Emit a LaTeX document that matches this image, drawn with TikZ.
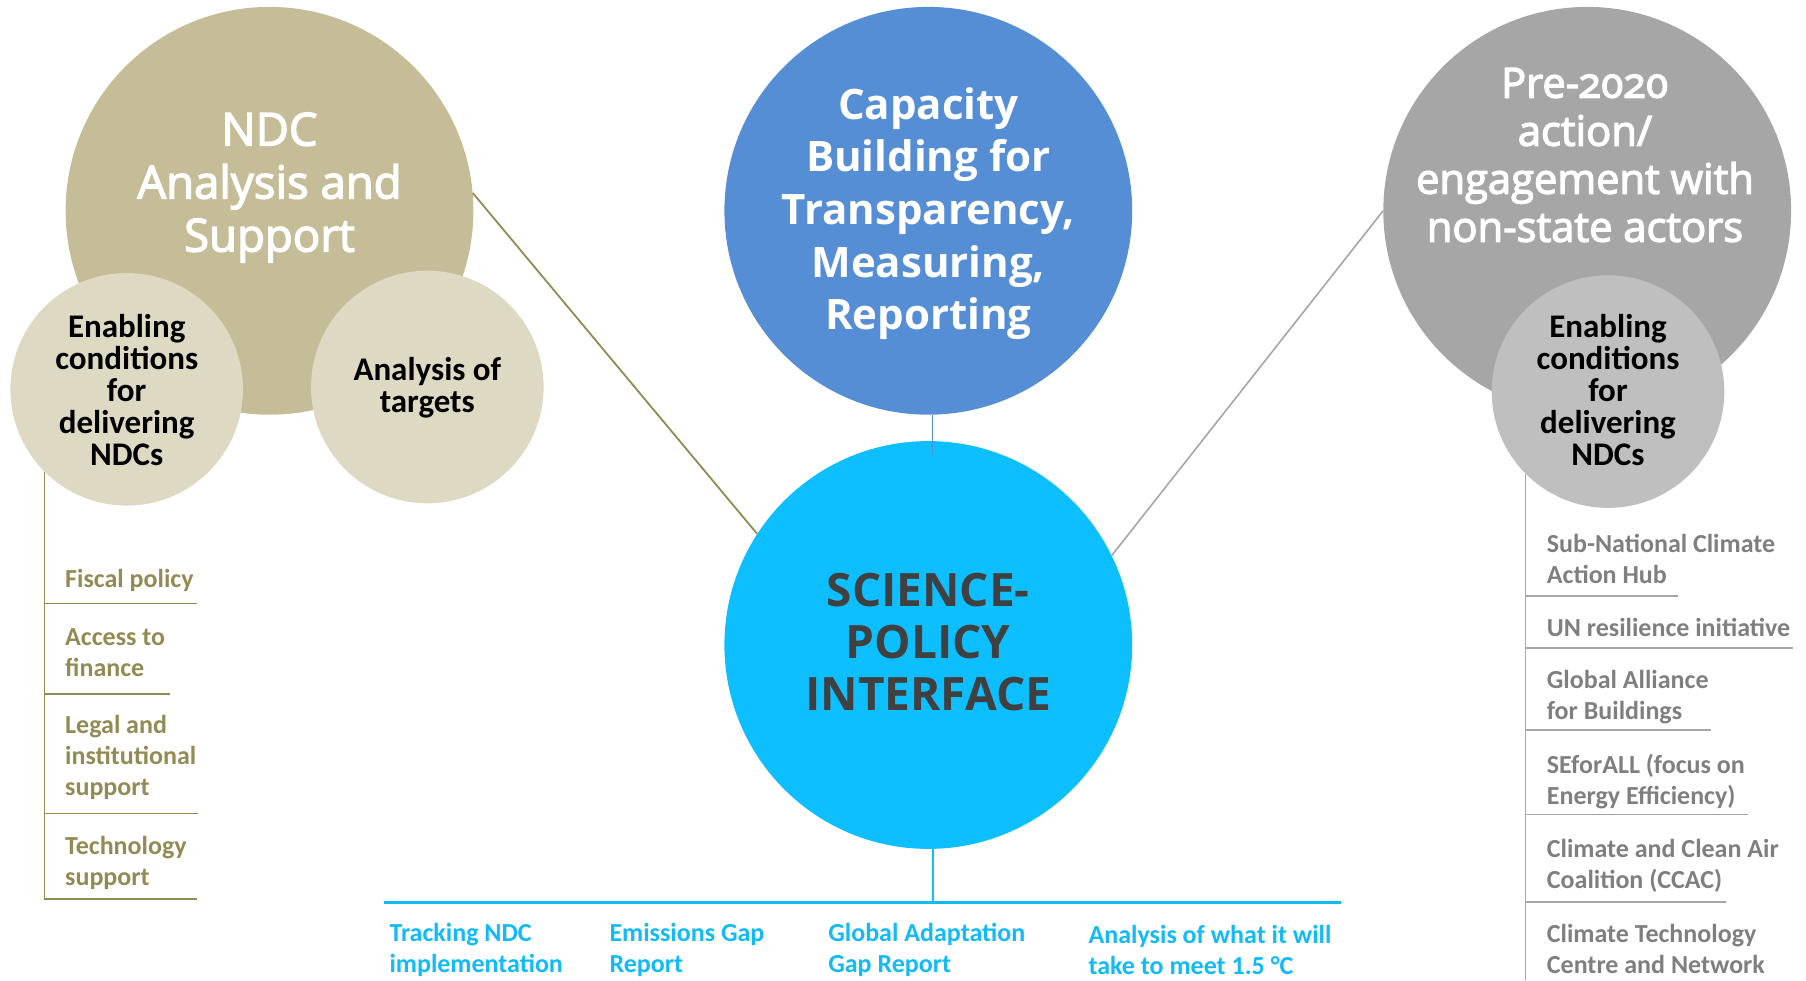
\documentclass[tikz,border=0pt]{standalone}
\usepackage{fontspec}
\setmainfont{Carlito}
\newfontfamily\osans[Numbers=OldStyle]{Open Sans}
\newfontfamily\osansmed[Numbers=OldStyle,FakeBold=3]{Open Sans}
\usetikzlibrary{calc}
\definecolor{tanD}{HTML}{C4BD97}
\definecolor{tanL}{HTML}{DDD9C3}
\definecolor{ndcOlive}{HTML}{948A54}
\definecolor{capBlue}{HTML}{558ED5}
\definecolor{sciCyan}{HTML}{0EBFFF}
\definecolor{listCyan}{HTML}{12BAF7}
\definecolor{grayD}{HTML}{A6A6A6}
\definecolor{grayL}{HTML}{BFBFBF}
\definecolor{grayT}{HTML}{7F7F7F}
\definecolor{sciT}{HTML}{404040}
\begin{document}
\begin{tikzpicture}[x=1pt,y=-1pt,
  bigbubble/.style={circle,inner sep=0pt,minimum size=407.8pt,draw=none,fill=#1},
  smallbubble/.style={circle,inner sep=0pt,minimum size=232.6pt,draw=none,fill=#1},
  lbl/.style={inner sep=0pt,align=center},
  enabtxt/.style={lbl,text=black,font=\bfseries\fontsize{33}{32}\selectfont},
  itemtxt/.style={inner sep=0pt,anchor=west,align=left,font=\bfseries\fontsize{26}{31}\selectfont},
  olivetxt/.style={itemtxt,text=ndcOlive},
  graytxt/.style={itemtxt,text=grayT},
  cyantxt/.style={itemtxt,text=listCyan},
  oliveline/.style={draw=ndcOlive,line width=1.6pt},
  grayline/.style={draw=grayD,line width=1.6pt},
  cyanline/.style={draw=listCyan,line width=2.6pt}
]
\useasboundingbox (0,0) rectangle (1806,980);

% big circles
\node[bigbubble=tanD] (ndc) at (269.5,210.8) {};
\node[bigbubble=capBlue] (cap) at (928.3,210.8) {};
\node[bigbubble=sciCyan] (sci) at (928.3,645) {};
\node[bigbubble=grayD] (pre) at (1587.2,210.8) {};
% small circles
\node[smallbubble=tanL] (le) at (126.7,389.3) {};
\node[smallbubble=tanL] (at) at (427.3,387) {};
\node[smallbubble=grayL] (re) at (1608,391.6) {};

% connectors
\draw[draw=ndcOlive,line width=1.8pt] (ndc.5) -- (sci.147.5);
\draw[draw=grayD,line width=1.6pt] (pre.180) -- (sci.26.8);
\coordinate (cb) at ($(cap.south)+(4.3,0)$);
\coordinate (sn) at ($(sci.north)+(4.3,14)$);
\draw[draw=capBlue,line width=1.5pt] (cb) -- (cb |- sn);
\coordinate (sb) at ($(sci.south)+(4.5,0)$);
\coordinate (hl) at (383.5,902.5);
\coordinate (hr) at (1341,902.5);
\draw[draw=listCyan,line width=1.6pt] (sb) -- (sb |- hl);
\draw[cyanline] (hl) -- (hr);

% left list lines
\coordinate (lb) at (45,899);
\draw[oliveline] (le.225) -- (le.225 |- lb);
\draw[oliveline] (le.225 |- 0,603.3) -- (197,603.3);
\draw[oliveline] (le.225 |- 0,694) -- (170,694);
\draw[oliveline] (le.225 |- 0,813.3) -- (198.3,813.3);
\draw[oliveline] (le.225 |- lb) -- (196.7,899);

% right list lines
\coordinate (rb) at (1526,980);
\draw[grayline] (re.225) -- (re.225 |- rb);
\draw[grayline] (re.225 |- 0,596) -- (1678.3,596);
\draw[grayline] (re.225 |- 0,647.7) -- (1793.3,647.7);
\draw[grayline] (re.225 |- 0,730) -- (1710.7,730);
\draw[grayline] (re.225 |- 0,814.3) -- (1748.3,814.3);
\draw[grayline] (re.225 |- 0,901.7) -- (1725.7,901.7);

% circle texts
\node[lbl,text=white,font=\osansmed\fontsize{45.5}{53}\selectfont] (ndct) at (269.5,187.5) {NDC\\Analysis and\\Support};
\node[lbl,text=white,font=\osans\bfseries\fontsize{42}{52.7}\selectfont] (capt) at (928.3,213.5) {Capacity\\Building for\\Transparency,\\Measuring,\\Reporting};
\node[lbl,text=sciT,font=\osans\bfseries\fontsize{46}{52}\selectfont] (scit) at (928.3,642.5) {SCIENCE-\\POLICY\\INTERFACE};
\node[lbl,text=white,font=\osansmed\fontsize{41.7}{48}\selectfont] (pret) at (1585,155) {Pre-2020\\action/\\engagement with\\non-state actors};
\node[enabtxt] (let) at (126.7,390.5) {Enabling\\conditions\\for\\delivering\\NDCs};
\node[enabtxt] (att) at (427.3,387.5) {Analysis of\\targets};
\node[enabtxt] (ret) at (1608,390.5) {Enabling\\conditions\\for\\delivering\\NDCs};

% left list
\node[olivetxt] (l1) at (65,580) {Fiscal policy};
\node[olivetxt] (l2) at (65,653) {Access to\\finance};
\node[olivetxt] (l3) at (65,757.2) {Legal and\\institutional\\support};
\node[olivetxt] (l4) at (65,863) {Technology\\support};

% right list
\node[graytxt] (r1) at (1546.7,559.2) {Sub-National Climate\\Action Hub};
\node[graytxt] (r2) at (1546.7,627.7) {UN resilience initiative};
\node[graytxt] (r3) at (1546.7,697) {Global Alliance\\for Buildings};
\node[graytxt] (r4) at (1546.7,781.7) {SEforALL (focus on\\Energy Efficiency)};
\node[graytxt] (r5) at (1546.7,865.7) {Climate and Clean Air\\Coalition (CCAC)};
\node[graytxt] (r6) at (1546.7,949.3) {Climate Technology\\Centre and Network};

% bottom list
\node[cyantxt] (b1) at (389.3,949.5) {Tracking NDC\\implementation};
\node[cyantxt] (b2) at (609.3,949.5) {Emissions Gap\\Report};
\node[cyantxt] (b3) at (828.1,949.5) {Global Adaptation\\Gap Report};
\node[cyantxt] (b4) at (1088.4,949.5) {Analysis of what it will\\take to meet 1.5 °C};
\end{tikzpicture}
\end{document}
